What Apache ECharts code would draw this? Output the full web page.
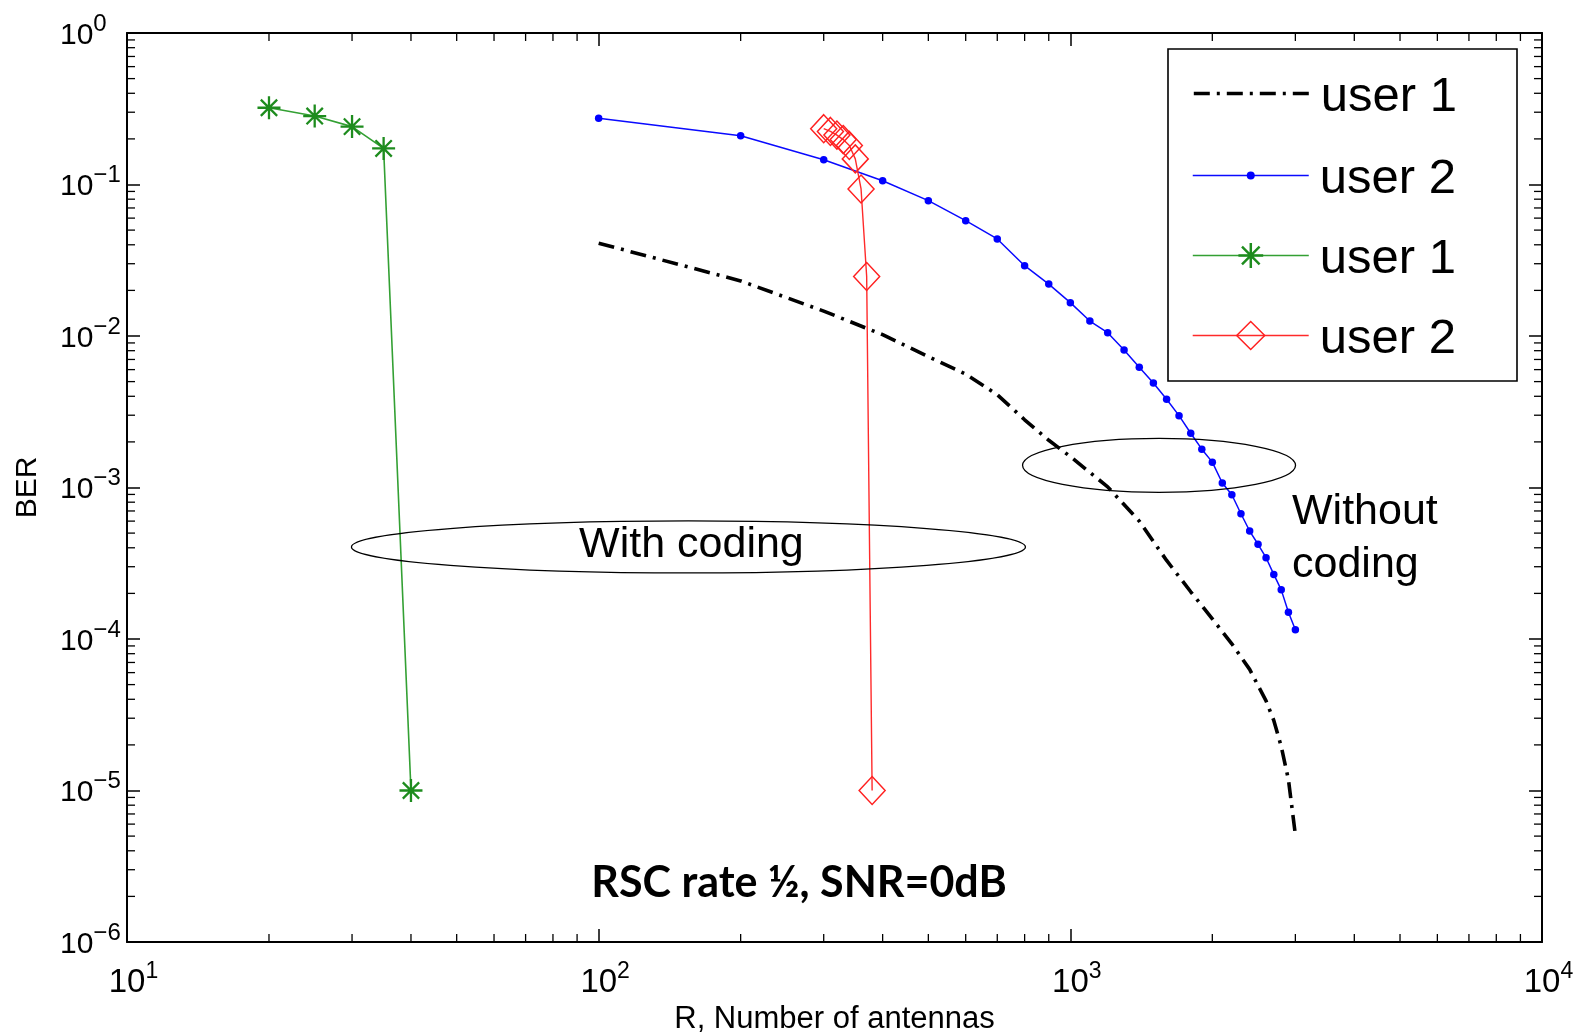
<!DOCTYPE html>
<html>
<head>
<meta charset="utf-8">
<script src="https://cdn.jsdelivr.net/npm/echarts@6/dist/echarts.min.js"></script>
<style>
html,body{margin:0;padding:0;background:#fff;}
#c{width:1577px;height:1034px;}
</style>
</head>
<body>
<div id="c"></div>
<script>
// ---------------- data ----------------
const user1UncodedR   = [100,200,300,400,500,600,700,800,900,1000,1200,1400,1600,1800,2000,2200,2400,2600,2700,2800,2900,3000];
const user1UncodedBER = [0.041,0.0231,0.0146,0.0102,0.0073,0.0056,0.0041,0.0028,0.00205,0.0016,0.00101,0.0006,0.00033,0.000205,0.000136,0.000093,0.000063,0.000039,0.000029,0.0000195,0.0000118,0.0000051];

const user2UncodedR   = [100,200,300,400,500,600,700,800,900,1000,1100,1200,1300,1400,1500,1600,1700,1800,1900,2000,2100,2200,2300,2400,2500,2600,2700,2800,2900,3000];
const user2UncodedBER = [0.2735,0.210,0.1458,0.1059,0.0782,0.0577,0.0437,0.0291,0.0220,0.0166,0.01256,0.01051,0.00809,0.00621,0.00490,0.00382,0.00298,0.00228,0.00179,0.00147,0.00107,0.000896,0.000671,0.000516,0.000422,0.000344,0.000267,0.000211,0.000150,0.000115];

const user1CodedR   = [20,25,30,35,40];
const user1CodedBER = [0.321,0.283,0.241,0.173,0.00001];

const user2CodedR   = [300,310,320,330,340,350,360,370,380];
const user2CodedBER = [0.2335,0.224,0.212,0.198,0.181,0.1476,0.0934,0.0247,0.00001];

const legendNames  = ['user 1','user 2','user 1','user 2'];
const xAxisTitle   = 'R, Number of antennas';
const yAxisTitle   = 'BER';
const chartNote    = 'RSC rate ½, SNR=0dB';
const withCodingText = 'With coding';
const withoutCodingText = ['Without','coding'];

// annotation anchors (data coordinates)
const withCodingCenter    = [155, 4.05e-4];
const withoutCodingCenter = [1542, 1.40e-3];

// ---------------- helpers ----------------
const zip = (a,b) => a.map((v,i)=>[v,b[i]]);
const FONT = '"Liberation Sans", Arial, Helvetica, sans-serif';
const sup = e => (e < 0 ? '\u2212' + (-e) : String(e));

// asterisk marker (4 bars)
const STAR = 'path://M-1,-10L1,-10L1,10L-1,10Z M-10,-1L10,-1L10,1L-10,1Z M-7.8,-6.4L-6.4,-7.8L7.8,6.4L6.4,7.8Z M6.4,-7.8L7.8,-6.4L-6.4,7.8L-7.8,6.4Z';

const minorX = [];
for (let d = 10; d < 10000; d *= 10) for (let k = 2; k <= 9; k++) minorX.push(k * d);
const minorY = [];
for (let e = -6; e < 0; e++) for (let k = 2; k <= 9; k++) minorY.push(k * Math.pow(10, e));

const axisCommon = {
  type: 'log', logBase: 10,
  axisLine: { show: true, lineStyle: { color: '#000', width: 2 } },
  axisTick: { show: true, inside: true, length: 13, lineStyle: { color: '#000', width: 1.5 } },
  splitLine: { show: false },
  minorTick: { show: false },
  interval: 1
};

// styles
const S = {
  u1: { line: { color: '#000', width: 3.6, type: [16, 7, 3, 7], cap: 'butt' }, item: { color: '#000', opacity: 0 } },
  u2: { line: { color: '#0a0aff', width: 1.5 }, item: { color: '#0000ff' } },
  c1: { line: { color: '#33a033', width: 1.6 }, item: { color: '#1e8c1e' } },
  c2: { line: { color: '#ff2a2a', width: 1.4 }, item: { color: 'rgba(255,255,255,0)', borderColor: '#ff2020', borderWidth: 1.5 } }
};

const chart = echarts.init(document.getElementById('c'), null, { renderer: 'canvas' });

const legendRows = [
  { name: 'user 1', label: legendNames[0], h: 20, cy: 93, st: S.u1 },
  { name: 'user 2', label: legendNames[1], h: 10, cy: 175, st: S.u2 },
  { name: 'user 1, with coding', label: legendNames[2], h: 31, cy: 255, st: S.c1 },
  { name: 'user 2, with coding', label: legendNames[3], h: 35, cy: 335, st: S.c2 }
];

const option = {
  animation: false,
  backgroundColor: '#ffffff',
  grid: { left: 127, right: 35, top: 33, bottom: 92, containLabel: false, outerBoundsMode: 'none' },
  xAxis: [
    Object.assign({}, axisCommon, {
      min: 10, max: 10000, position: 'bottom',
      name: xAxisTitle, nameLocation: 'middle', nameGap: 57,
      nameTextStyle: { fontFamily: FONT, fontSize: 31, color: '#000' },
      axisLabel: {
        show: true, margin: 18, color: '#000',
        formatter: v => '{b|10}{s|' + sup(Math.round(Math.log10(v))) + '}',
        rich: {
          b: { fontFamily: FONT, fontSize: 33, color: '#000', padding: [0, 0, 0, 13] },
          s: { fontFamily: FONT, fontSize: 23, color: '#000', padding: [0, 0, 22, 0] }
        }
      }
    }),
    Object.assign({}, axisCommon, {
      min: 10, max: 10000, position: 'top', axisLabel: { show: false }
    })
  ],
  yAxis: [
    Object.assign({}, axisCommon, {
      min: 1e-6, max: 1, position: 'left',
      name: yAxisTitle, nameLocation: 'middle', nameGap: 84, nameRotate: 90,
      nameTextStyle: { fontFamily: FONT, fontSize: 30, color: '#000' },
      axisLabel: {
        show: true, margin: 67, align: 'left', color: '#000',
        formatter: v => '{b|10}{s|' + sup(Math.round(Math.log10(v))) + '}',
        rich: {
          b: { fontFamily: FONT, fontSize: 30, color: '#000', padding: [5, 0, 0, 0] },
          s: { fontFamily: FONT, fontSize: 24, color: '#000', padding: [0, 0, 18, 0] }
        }
      }
    }),
    Object.assign({}, axisCommon, {
      min: 1e-6, max: 1, position: 'right', axisLabel: { show: false }
    })
  ],
  legend: legendRows.map(r => ({
    data: [r.name],
    formatter: () => '{t|' + r.label + '}',
    orient: 'vertical',
    left: 1192,
    top: r.cy - 28,
    padding: 0,
    itemWidth: 116,
    itemHeight: r.h,
    selectedMode: false,
    z: 6,
    textStyle: {
      fontFamily: FONT, fontSize: 49, color: '#000',
      rich: { t: { fontFamily: FONT, fontSize: 49, color: '#000', lineHeight: 56, padding: [8, 0, 0, 6] } }
    },
    itemStyle: r.st.item,
    lineStyle: r.st.line
  })),
  series: [
    {
      name: 'user 1', type: 'line', data: zip(user1UncodedR, user1UncodedBER),
      symbol: 'none', silent: true, z: 3,
      lineStyle: S.u1.line,
      itemStyle: { color: '#000' },
      emphasis: { disabled: true }
    },
    {
      name: 'user 2', type: 'line', data: zip(user2UncodedR, user2UncodedBER),
      symbol: 'circle', symbolSize: 7.5, showAllSymbol: true, silent: true, z: 3,
      lineStyle: S.u2.line,
      itemStyle: S.u2.item,
      emphasis: { disabled: true }
    },
    {
      name: 'user 1, with coding', type: 'line', data: zip(user1CodedR, user1CodedBER),
      symbol: STAR, symbolSize: 23, showAllSymbol: true, silent: true, z: 3,
      lineStyle: S.c1.line,
      itemStyle: S.c1.item,
      emphasis: { disabled: true }
    },
    {
      name: 'user 2, with coding', type: 'line', data: zip(user2CodedR, user2CodedBER),
      symbol: 'diamond', symbolSize: [26, 28], showAllSymbol: true, silent: true, z: 4,
      lineStyle: S.c2.line,
      itemStyle: S.c2.item,
      emphasis: { disabled: true }
    },
    {
      type: 'custom', silent: true, z: 1, clip: false,
      data: minorX.map(v => [v, 1e-3]),
      renderItem: (p, api) => {
        const v = api.value(0);
        const b = api.coord([v, 1e-6]);
        const t = api.coord([v, 1]);
        const st = { stroke: '#000', lineWidth: 1.3 };
        return { type: 'group', children: [
          { type: 'line', shape: { x1: b[0], y1: b[1], x2: b[0], y2: b[1] - 8 }, style: st },
          { type: 'line', shape: { x1: t[0], y1: t[1], x2: t[0], y2: t[1] + 8 }, style: st }
        ]};
      }
    },
    {
      type: 'custom', silent: true, z: 1, clip: false,
      data: minorY.map(v => [100, v]),
      renderItem: (p, api) => {
        const v = api.value(1);
        const l = api.coord([10, v]);
        const r = api.coord([10000, v]);
        const st = { stroke: '#000', lineWidth: 1.3 };
        return { type: 'group', children: [
          { type: 'line', shape: { x1: l[0], y1: l[1], x2: l[0] + 8, y2: l[1] }, style: st },
          { type: 'line', shape: { x1: r[0], y1: r[1], x2: r[0] - 8, y2: r[1] }, style: st }
        ]};
      }
    }
  ]
};

chart.setOption(option);

const px = d => chart.convertToPixel({ xAxisIndex: 0, yAxisIndex: 0 }, d);
const c1 = px(withCodingCenter);
const c2 = px(withoutCodingCenter);

chart.setOption({
  graphic: [
    { type: 'rect', z: 5, silent: true,
      shape: { x: 1168, y: 49, width: 349, height: 332 },
      style: { fill: '#fff', stroke: '#000', lineWidth: 1.6 } },
    { type: 'ellipse', z: 5, silent: true,
      shape: { cx: c1[0], cy: c1[1], rx: 337, ry: 26 },
      style: { fill: 'none', stroke: '#000', lineWidth: 1.3 } },
    { type: 'ellipse', z: 5, silent: true,
      shape: { cx: c2[0], cy: c2[1], rx: 136.5, ry: 27 },
      style: { fill: 'none', stroke: '#000', lineWidth: 1.3 } },
    { type: 'text', z: 6, silent: true, x: c1[0] + 3, y: c1[1] - 2,
      style: { text: withCodingText, font: '43px ' + FONT, fill: '#000', align: 'center', verticalAlign: 'middle' } },
    { type: 'text', z: 6, silent: true, x: 1292, y: 512,
      style: { text: withoutCodingText[0], font: '43px ' + FONT, fill: '#000', align: 'left', verticalAlign: 'middle' } },
    { type: 'text', z: 6, silent: true, x: 1292, y: 565,
      style: { text: withoutCodingText[1], font: '43px ' + FONT, fill: '#000', align: 'left', verticalAlign: 'middle' } },
    { type: 'text', z: 6, silent: true, x: 799, y: 883,
      style: { text: chartNote, font: 'bold 43px Lato, "Open Sans", sans-serif', fill: '#000', align: 'center', verticalAlign: 'middle' } }
  ]
});
</script>
</body>
</html>
